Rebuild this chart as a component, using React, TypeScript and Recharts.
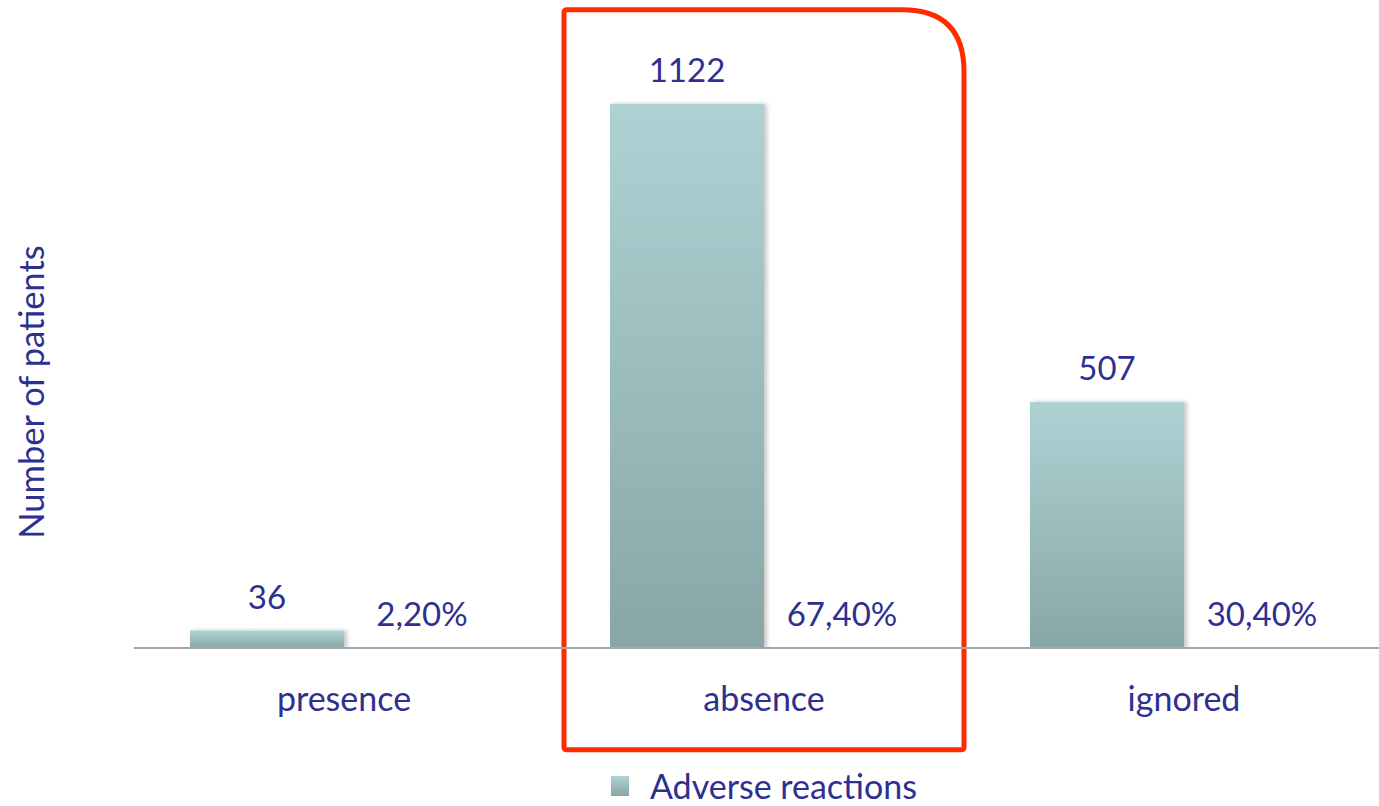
import {
  Bar,
  BarChart,
  LabelList,
  Legend,
  ReferenceArea,
  XAxis,
  YAxis,
} from "recharts";

const categories = ["presence", "absence", "ignored"];
const patients = [36, 1122, 507];
const shares = [0.022, 0.674, 0.304];

const highlighted = "absence";
// red frame spans a bit above the plot and down past the category labels
const frameTop = 1316;
const frameBottom = -210;

const data = categories.map((name, i) => ({
  name,
  patients: patients[i],
  share: shares[i],
}));

const TEXT = "#2e3091";
const FONT = "Lato, 'Open Sans', sans-serif";

const pct = (v: number) => `${(v * 100).toFixed(2).replace(".", ",")}%`;

function FrameShape(props: any) {
  const { x, y, width, height } = props;
  const l = x + 10;
  const r = x + width - 10;
  const t = y;
  const b = y + height;
  const R = 62;
  const s = 3;
  const d = `M ${l + s} ${t} L ${r - R} ${t} Q ${r} ${t} ${r} ${t + R} L ${r} ${b - s} Q ${r} ${b} ${r - s} ${b} L ${l + s} ${b} Q ${l} ${b} ${l} ${b - s} L ${l} ${t + s} Q ${l} ${t} ${l + s} ${t} Z`;
  return <path d={d} fill="none" stroke="#ff2a00" strokeWidth={5} />;
}

function YLabel(props: any) {
  const vb = props.viewBox || { x: 0, y: 0 };
  const cx = vb.x + 30;
  const cy = 392;
  return (
    <text
      x={cx}
      y={cy}
      transform={`rotate(-90 ${cx} ${cy})`}
      textAnchor="middle"
      dominantBaseline="central"
      fill={TEXT}
      fontSize={34.5}
      fontFamily={FONT}
    >
      Number of patients
    </text>
  );
}

function LegendContent() {
  return (
    <div
      style={{
        display: "flex",
        justifyContent: "center",
        alignItems: "center",
        height: 46,
        paddingTop: 13,
        boxSizing: "border-box",
        fontFamily: FONT,
        fontSize: 34,
        lineHeight: 1,
        color: TEXT,
      }}
    >
      <span
        style={{
          width: 18,
          height: 20,
          marginRight: 21,
          background: "linear-gradient(#aed2d4, #88a6a6)",
          display: "inline-block",
        }}
      />
      <span>Adverse reactions</span>
    </div>
  );
}

export default function App() {
  return (
    <div
      style={{
        position: "absolute",
        left: 0,
        top: 0,
        width: 1379,
        height: 806,
        overflow: "hidden",
        background: "#fff",
      }}
    >
      <BarChart
        width={1394}
        height={806}
        data={data}
        margin={{ top: 66, right: 0, left: 0, bottom: 0 }}
        barSize={154}
        barGap={1}
        style={{ fontFamily: FONT }}
      >
        <defs>
          <linearGradient id="barFill" x1="0" y1="0" x2="0" y2="1">
            <stop offset="0%" stopColor="#aed2d4" />
            <stop offset="100%" stopColor="#88a6a6" />
          </linearGradient>
          <filter id="barShadow" x="-10%" y="-10%" width="130%" height="120%">
            <feDropShadow dx="3" dy="0" stdDeviation="2" floodColor="#000" floodOpacity="0.22" />
          </filter>
        </defs>
        <XAxis
          dataKey="name"
          height={110}
          tickLine={false}
          tickMargin={33}
          axisLine={{ stroke: "#a6a6a6", strokeWidth: 2 }}
          tick={{ fill: TEXT, fontSize: 34, fontFamily: FONT }}
        />
        <YAxis
          width={134}
          domain={[0, 1200]}
          tick={false}
          tickLine={false}
          axisLine={false}
          allowDataOverflow
          label={{ content: <YLabel /> }}
        />
        <Legend
          verticalAlign="bottom"
          height={48}
          content={<LegendContent />}
          wrapperStyle={{ left: 134, width: 1260, bottom: 2 }}
        />
        <ReferenceArea
          x1={highlighted}
          x2={highlighted}
          y1={frameBottom}
          y2={frameTop}
          ifOverflow="visible"
          shape={<FrameShape />}
        />
        <Bar
          dataKey="patients"
          name="Adverse reactions"
          fill="url(#barFill)"
          filter="url(#barShadow)"
          isAnimationActive={false}
        >
          <LabelList
            dataKey="patients"
            position="top"
            offset={22}
            fill={TEXT}
            fontSize={33}
            fontFamily={FONT}
          />
        </Bar>
        <Bar
          dataKey="share"
          legendType="none"
          fill="url(#barFill)"
          isAnimationActive={false}
        >
          <LabelList
            dataKey="share"
            position="top"
            offset={22}
            fill={TEXT}
            fontSize={33}
            fontFamily={FONT}
            formatter={(v: any) => pct(Number(v))}
          />
        </Bar>
      </BarChart>
    </div>
  );
}
